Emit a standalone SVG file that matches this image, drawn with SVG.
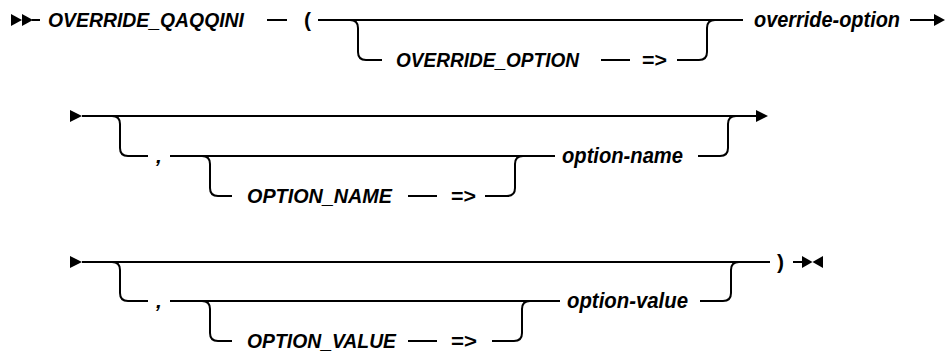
<svg xmlns="http://www.w3.org/2000/svg" width="946" height="352" viewBox="0 0 946 352">
<style>
.bg{fill:#ffffff}
.ln{fill:none;stroke:#000;stroke-width:2}
.ah{fill:#000;stroke:none}
.kw{font-family:"Liberation Sans",Arial,sans-serif;font-style:italic;font-weight:bold;font-size:21px;fill:#000}
.var{font-family:"Liberation Sans",Arial,sans-serif;font-style:italic;font-weight:bold;font-size:22px;fill:#000}
.sym{font-family:"Liberation Sans",Arial,sans-serif;font-weight:bold;font-size:21px;fill:#000}
</style>
<rect class="bg" x="0" y="0" width="946" height="352"/>
<g id="connectors">
  <!-- row 1 -->
  <polygon class="ah" points="11,14 22,20 11,26"/>
  <polygon class="ah" points="22,14 33,20 22,26"/>
  <path class="ln" d="M32,20 H40"/>
  <path class="ln" d="M267,20 H287"/>
  <path class="ln" d="M318,20 H743"/>
  <path class="ln" d="M350,20 Q358,20 358,28 V52 Q358,60 366,60 H382"/>
  <path class="ln" d="M601,60 H630"/>
  <path class="ln" d="M677,60 H699 Q707,60 707,52 V28 Q707,20 715,20"/>
  <path class="ln" d="M910,20 H935"/>
  <polygon class="ah" points="934,14 945,20 934,26"/>
  <!-- row 2 -->
  <polygon class="ah" points="70,110 82,116 70,122"/>
  <path class="ln" d="M82,116 H757"/>
  <polygon class="ah" points="756,110 768,116 756,122"/>
  <path class="ln" d="M112,116 Q120,116 120,124 V148 Q120,156 128,156 H148"/>
  <path class="ln" d="M170,156 H555"/>
  <path class="ln" d="M202,156 Q210,156 210,164 V188 Q210,196 218,196 H232"/>
  <path class="ln" d="M408,196 H437"/>
  <path class="ln" d="M485,196 H507 Q515,196 515,188 V164 Q515,156 523,156"/>
  <path class="ln" d="M698,156 H720 Q728,156 728,148 V124 Q728,116 736,116"/>
  <!-- row 3 -->
  <polygon class="ah" points="70,256 82,262 70,268"/>
  <path class="ln" d="M82,262 H770"/>
  <path class="ln" d="M112,262 Q120,262 120,270 V293 Q120,301 128,301 H148"/>
  <path class="ln" d="M170,301 H560"/>
  <path class="ln" d="M202,301 Q210,301 210,309 V333 Q210,341 218,341 H232"/>
  <path class="ln" d="M408,341 H437"/>
  <path class="ln" d="M492,341 H514 Q522,341 522,333 V309 Q522,301 530,301"/>
  <path class="ln" d="M700,301 H723 Q731,301 731,293 V270 Q731,262 739,262"/>
  <path class="ln" d="M793,262 H803"/>
  <polygon class="ah" points="802,256 812.5,262 802,268"/>
  <polygon class="ah" points="823,256 812.5,262 823,268"/>
</g>
<g id="node-override-qaqqini"><text class="kw" x="48" y="27" textLength="196" lengthAdjust="spacingAndGlyphs">OVERRIDE_QAQQINI</text></g>
<g id="node-lparen"><text class="sym" x="304" y="27">(</text></g>
<g id="node-override-option-kw"><text class="kw" x="396" y="67" textLength="183" lengthAdjust="spacingAndGlyphs">OVERRIDE_OPTION</text></g>
<g id="node-arrow1"><text class="sym" x="642" y="67" textLength="25" lengthAdjust="spacingAndGlyphs">=&gt;</text></g>
<g id="node-override-option"><text class="var" x="754" y="26.5" textLength="146" lengthAdjust="spacingAndGlyphs">override-option</text></g>
<g id="node-comma1"><text class="kw" x="156" y="162.5">,</text></g>
<g id="node-option-name-kw"><text class="kw" x="247" y="203" textLength="145" lengthAdjust="spacingAndGlyphs">OPTION_NAME</text></g>
<g id="node-arrow2"><text class="sym" x="451" y="203" textLength="25" lengthAdjust="spacingAndGlyphs">=&gt;</text></g>
<g id="node-option-name"><text class="var" x="562" y="162.5" textLength="121" lengthAdjust="spacingAndGlyphs">option-name</text></g>
<g id="node-comma2"><text class="kw" x="156" y="307.5">,</text></g>
<g id="node-option-value-kw"><text class="kw" x="247" y="348" textLength="149" lengthAdjust="spacingAndGlyphs">OPTION_VALUE</text></g>
<g id="node-arrow3"><text class="sym" x="451" y="348" textLength="26" lengthAdjust="spacingAndGlyphs">=&gt;</text></g>
<g id="node-option-value"><text class="var" x="567" y="307.5" textLength="121" lengthAdjust="spacingAndGlyphs">option-value</text></g>
<g id="node-rparen"><text class="sym" x="777" y="268.5">)</text></g>
</svg>
